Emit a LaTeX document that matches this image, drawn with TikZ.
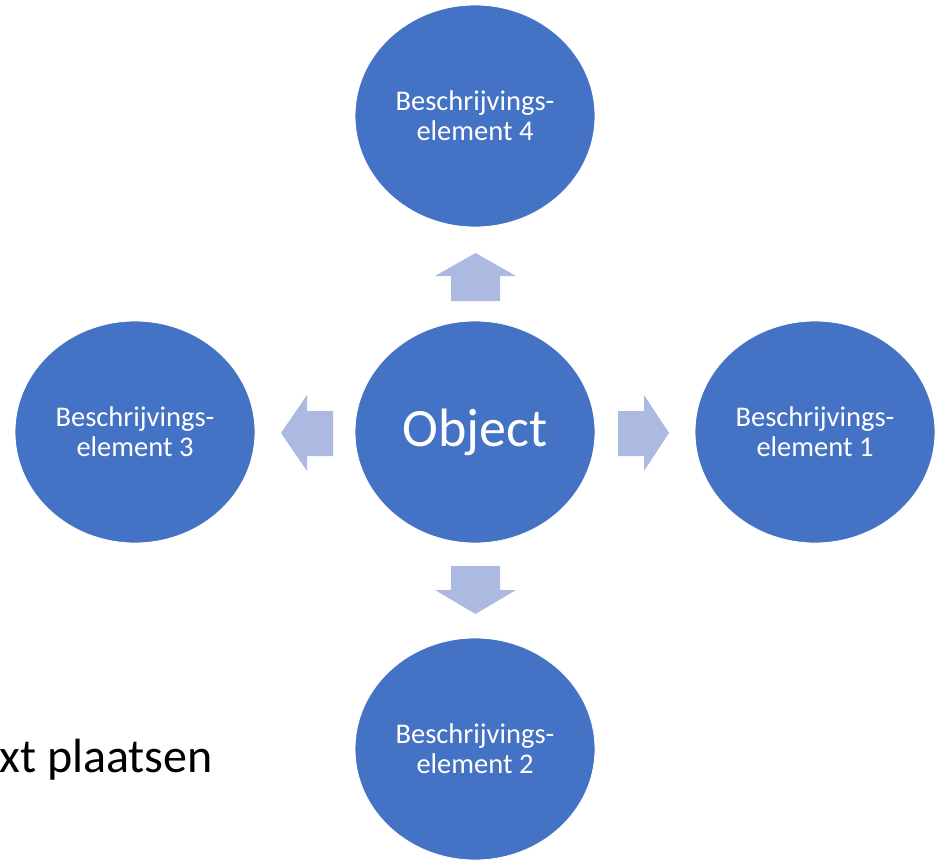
\documentclass[tikz,border=0pt]{standalone}
\usepackage{fontspec}
\setmainfont{Carlito}
\usetikzlibrary{shapes.geometric}
\definecolor{circblue}{RGB}{68,114,196}
\definecolor{arrowblue}{RGB}{172,185,224}
\tikzset{
  element/.style={ellipse,fill=circblue,draw=white,line width=0.8pt,minimum width=240pt,minimum height=222pt,inner sep=0pt,text=white,align=center,font=\fontsize{28.5}{30}\selectfont},
  blockarrow/.style={fill=arrowblue}
}
\begin{document}
\begin{tikzpicture}[x=1pt,y=-1pt]
            \useasboundingbox (0,0) rectangle (936,861);
            % Circles
            \node [element,font=\fontsize{54}{58}\selectfont] (obj) at (475,432) {Object};
            \node [element] (el4) at (475,116) {Beschrijvings-\\element 4};
            \node [element] (el2) at (475,749) {Beschrijvings-\\element 2};
            \node [element] (el3) at (135,432) {Beschrijvings-\\element 3};
            \node [element] (el1) at (815,432) {Beschrijvings-\\element 1};

            % Arrows
            \fill [blockarrow] (451,301)--(451,276)--(435,276)--(475.5,253)--(516,276)--(500,276)--(500,301)--cycle;
            \fill [blockarrow] (451,566)--(451,590)--(435,590)--(475.5,614)--(516,590)--(500,590)--(500,566)--cycle;
            \fill [blockarrow] (333,411)--(307,411)--(307,395)--(281,433)--(307,471)--(307,456)--(333,456)--cycle;
            \fill [blockarrow] (618,411)--(644,411)--(644,395)--(669,433)--(644,471)--(644,456)--(618,456)--cycle;

            \node [anchor=base east,inner sep=0pt,font=\fontsize{48}{52}\selectfont] (txt) at (213,772) {xt plaatsen};
        \end{tikzpicture}
\end{document}
